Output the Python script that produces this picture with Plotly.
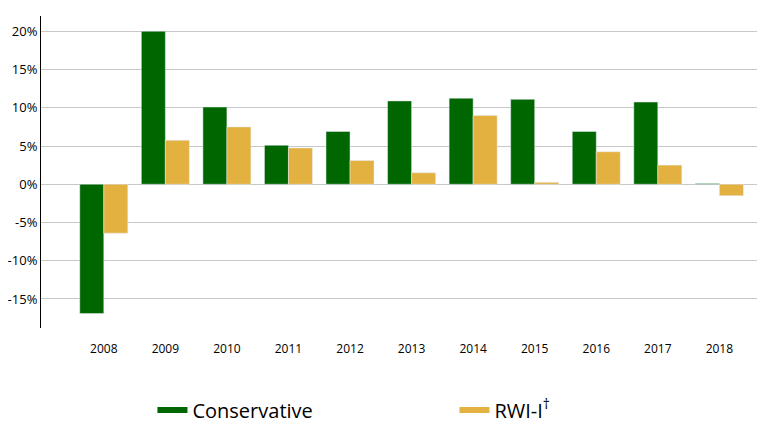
import plotly.graph_objects as go

years = ['2008', '2009', '2010', '2011', '2012', '2013', '2014', '2015', '2016', '2017', '2018']
conservative = [-16.9, 20.0, 10.1, 5.1, 6.9, 10.9, 11.25, 11.1, 6.9, 10.75, 0.1]
rwi = [-6.4, 5.75, 7.5, 4.75, 3.1, 1.5, 9.0, 0.25, 4.25, 2.5, -1.5]

green = '#006600'
gold = '#E3B140'

fig = go.Figure()
fig.add_trace(go.Bar(x=years, y=conservative, marker_color=green, showlegend=False))
fig.add_trace(go.Bar(x=years, y=rwi, marker_color=gold, showlegend=False))
# legend entries drawn as thick lines, like the original
fig.add_trace(go.Scatter(x=[None], y=[None], mode='lines', name='Conservative',
                         line=dict(color=green, width=6), legend='legend'))
fig.add_trace(go.Scatter(x=[None], y=[None], mode='lines', name='RWI-I<sup>†</sup>',
                         line=dict(color=gold, width=6), legend='legend2'))

leg = dict(orientation='h', xanchor='left', y=-0.2, yanchor='top',
           font=dict(size=20), bgcolor='rgba(0,0,0,0)')
fig.update_layout(
    width=765, height=430,
    margin=dict(l=33, r=13, t=8, b=95),
    plot_bgcolor='white', paper_bgcolor='white',
    font=dict(family='Open Sans', size=12, color='black'),
    barmode='group', bargap=0.22, bargroupgap=0,
    legend=dict(leg, x=0.155),
    legend2=dict(leg, x=0.575),
)
fig.update_xaxes(range=[-1.02, 10.66], showline=False, ticks='outside',
                 ticklen=10, tickcolor='white', automargin=False)
fig.update_yaxes(range=[-18.8, 22], tickvals=[-15, -10, -5, 0, 5, 10, 15, 20],
                 ticktext=['-15%', '-10%', '-5%', '0%', '5%', '10%', '15%', '20%'],
                 tickfont=dict(size=13), automargin=False,
                 showgrid=True, gridcolor='#C8C8C8', zeroline=False,
                 showline=True, linecolor='black', ticks='')

fig.write_html("out.html")
